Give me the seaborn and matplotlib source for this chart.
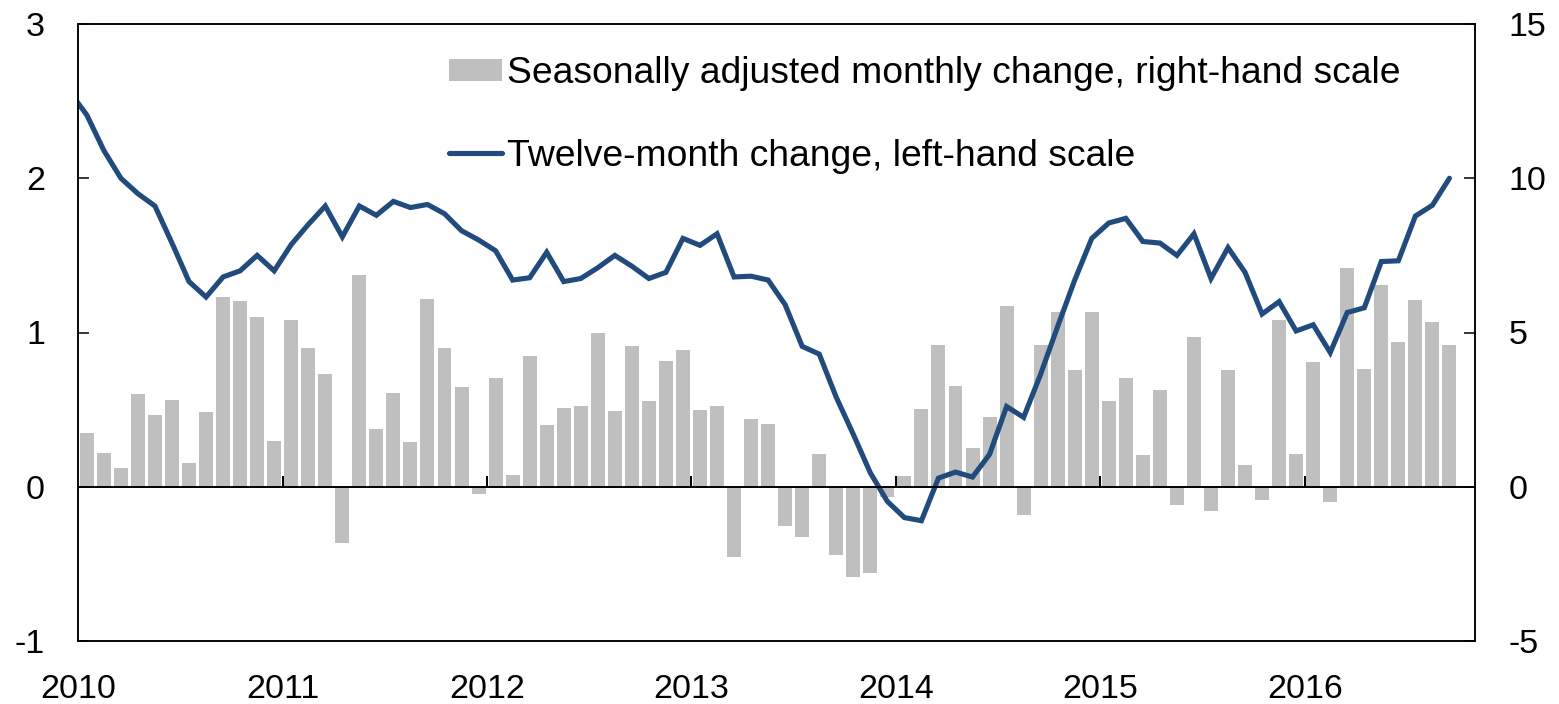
import numpy as np
import pandas as pd
import matplotlib
matplotlib.use("Agg")
import matplotlib.pyplot as plt
import seaborn as sns

# ---------------- data ----------------
years = ["2010", "2011", "2012", "2013", "2014", "2015", "2016"]

# Twelve-month change (left-hand scale), Dec 2009 .. Sep 2016
twelve_month = [
    2.56,
    2.41, 2.18, 2.00, 1.90, 1.82, 1.58, 1.33, 1.23, 1.36, 1.40, 1.50, 1.40,
    1.57, 1.70, 1.82, 1.62, 1.82, 1.76, 1.85, 1.81, 1.83, 1.77, 1.66, 1.60,
    1.53, 1.34, 1.355, 1.52, 1.33, 1.35, 1.42, 1.50, 1.43, 1.35, 1.39, 1.61,
    1.565, 1.64, 1.36, 1.365, 1.34, 1.18, 0.91, 0.86, 0.58, 0.34, 0.09, -0.095,
    -0.20, -0.22, 0.056, 0.095, 0.063, 0.21, 0.52, 0.45, 0.73, 1.04, 1.34, 1.61,
    1.71, 1.74, 1.59, 1.58, 1.50, 1.64, 1.35, 1.55, 1.39, 1.12, 1.20, 1.01,
    1.05, 0.87, 1.13, 1.16, 1.46, 1.465, 1.755, 1.825, 2.00,
]

# Seasonally adjusted monthly change (right-hand scale), Jan 2010 .. Sep 2016
monthly_sa = [
    1.74, 1.09, 0.60, 3.00, 2.32, 2.81, 0.77, 2.43, 6.15, 6.03, 5.51, 1.49,
    5.42, 4.49, 3.64, -1.81, 6.85, 1.88, 3.03, 1.44, 6.07, 4.50, 3.23, -0.24,
    3.51, 0.39, 4.25, 2.01, 2.55, 2.61, 4.98, 2.47, 4.56, 2.77, 4.09, 4.43,
    2.50, 2.63, -2.28, 2.18, 2.05, -1.27, -1.63, 1.07, -2.21, -2.93, -2.80, -0.34,
    0.36, 2.52, 4.59, 3.27, 1.26, 2.25, 5.85, -0.91, 4.59, 5.66, 3.80, 5.66,
    2.78, 3.53, 1.04, 3.12, -0.58, 4.87, -0.78, 3.77, 0.72, -0.44, 5.41, 1.07,
    4.04, -0.51, 7.10, 3.83, 6.53, 4.70, 6.04, 5.34, 4.59,
]

bar_label = "Seasonally adjusted monthly change, right-hand scale"
line_label = "Twelve-month change, left-hand scale"

# month positions: month k occupies [k, k+1], value plotted at its middle
bar_x = np.arange(len(monthly_sa)) + 0.5
line_x = np.arange(len(twelve_month)) - 0.5
bars_df = pd.DataFrame({"month": bar_x, "value": monthly_sa})
line_df = pd.DataFrame({"month": line_x, "value": twelve_month})

# ---------------- style ----------------
sns.set_theme(style="white")
plt.rcParams["font.family"] = ["Liberation Sans", "DejaVu Sans"]

BAR_COLOR = "#BFBFBF"
LINE_COLOR = "#224B7D"
TICK_FS = 24.5

fig = plt.figure(figsize=(15.59, 7.04), dpi=100)
ax = fig.add_axes([78.3 / 1559, 1 - 641 / 704, (1475 - 78.3) / 1559, (641 - 24) / 704])
ax2 = ax.twinx()

# bars on right-hand scale
sns.barplot(data=bars_df, x="month", y="value", native_scale=True, ax=ax2,
            color=BAR_COLOR, saturation=1, width=0.82, errorbar=None,
            edgecolor="none", linewidth=0, label=bar_label)

# line on left-hand scale
sns.lineplot(data=line_df, x="month", y="value", ax=ax, color=LINE_COLOR,
             linewidth=3.7, label=line_label, solid_capstyle="round",
             solid_joinstyle="miter")

ax.set_zorder(ax2.get_zorder() + 1)
ax.patch.set_visible(False)

ax.set_xlim(0, 82)
ax.set_ylim(-1, 3)
ax2.set_ylim(-5, 15)
ax.set_yticks([-1, 0, 1, 2, 3])
ax.set_yticklabels(["-1", "0", "1", "2", "3"])
ax2.set_yticks([-5, 0, 5, 10, 15])
ax2.set_yticklabels(["-5", "0", "5", "10", "15"])

year_pos = [12 * i for i in range(len(years))]
ax.set_xticks(year_pos)
ax.set_xticklabels(years)
ax2.set_xlim(0, 82)

ax.set_xlabel("")
ax.set_ylabel("")
ax2.set_xlabel("")
ax2.set_ylabel("")

# zero line with year ticks
ax.axhline(0, color="black", linewidth=1.4, zorder=3)
ax.vlines(year_pos[1:], 0, 0.07, color="black", linewidth=1.4, zorder=3)

# ticks
ax.tick_params(axis="y", direction="in", length=8, width=1.1, color="black",
               labelsize=TICK_FS, pad=24, left=True, right=False, labelcolor="black")
ax2.tick_params(axis="y", direction="in", length=8, width=1.1, color="black",
                labelsize=TICK_FS, pad=24, right=True, left=False, labelcolor="black")
ax.tick_params(axis="x", length=0, labelsize=TICK_FS, pad=24, labelcolor="black")
ax2.tick_params(axis="x", length=0, labelbottom=False)

for a in (ax, ax2):
    for s in a.spines.values():
        s.set_visible(True)
        s.set_color("black")
        s.set_linewidth(1.1)

# legend
h2, l2 = ax2.get_legend_handles_labels()
h1, l1 = ax.get_legend_handles_labels()
if ax2.get_legend() is not None:
    ax2.get_legend().remove()
leg = ax.legend(h2 + h1, l2 + l1, loc="upper left",
                bbox_to_anchor=(449 / 1559, 1 - 56 / 704),
                bbox_transform=fig.transFigure, frameon=False,
                fontsize=26.8, handlelength=1.43, handleheight=0.55,
                handletextpad=0.12, labelspacing=1.28, borderpad=0,
                borderaxespad=0)
for t in leg.get_texts():
    t.set_color("black")

fig.savefig("out.png", dpi=100)
